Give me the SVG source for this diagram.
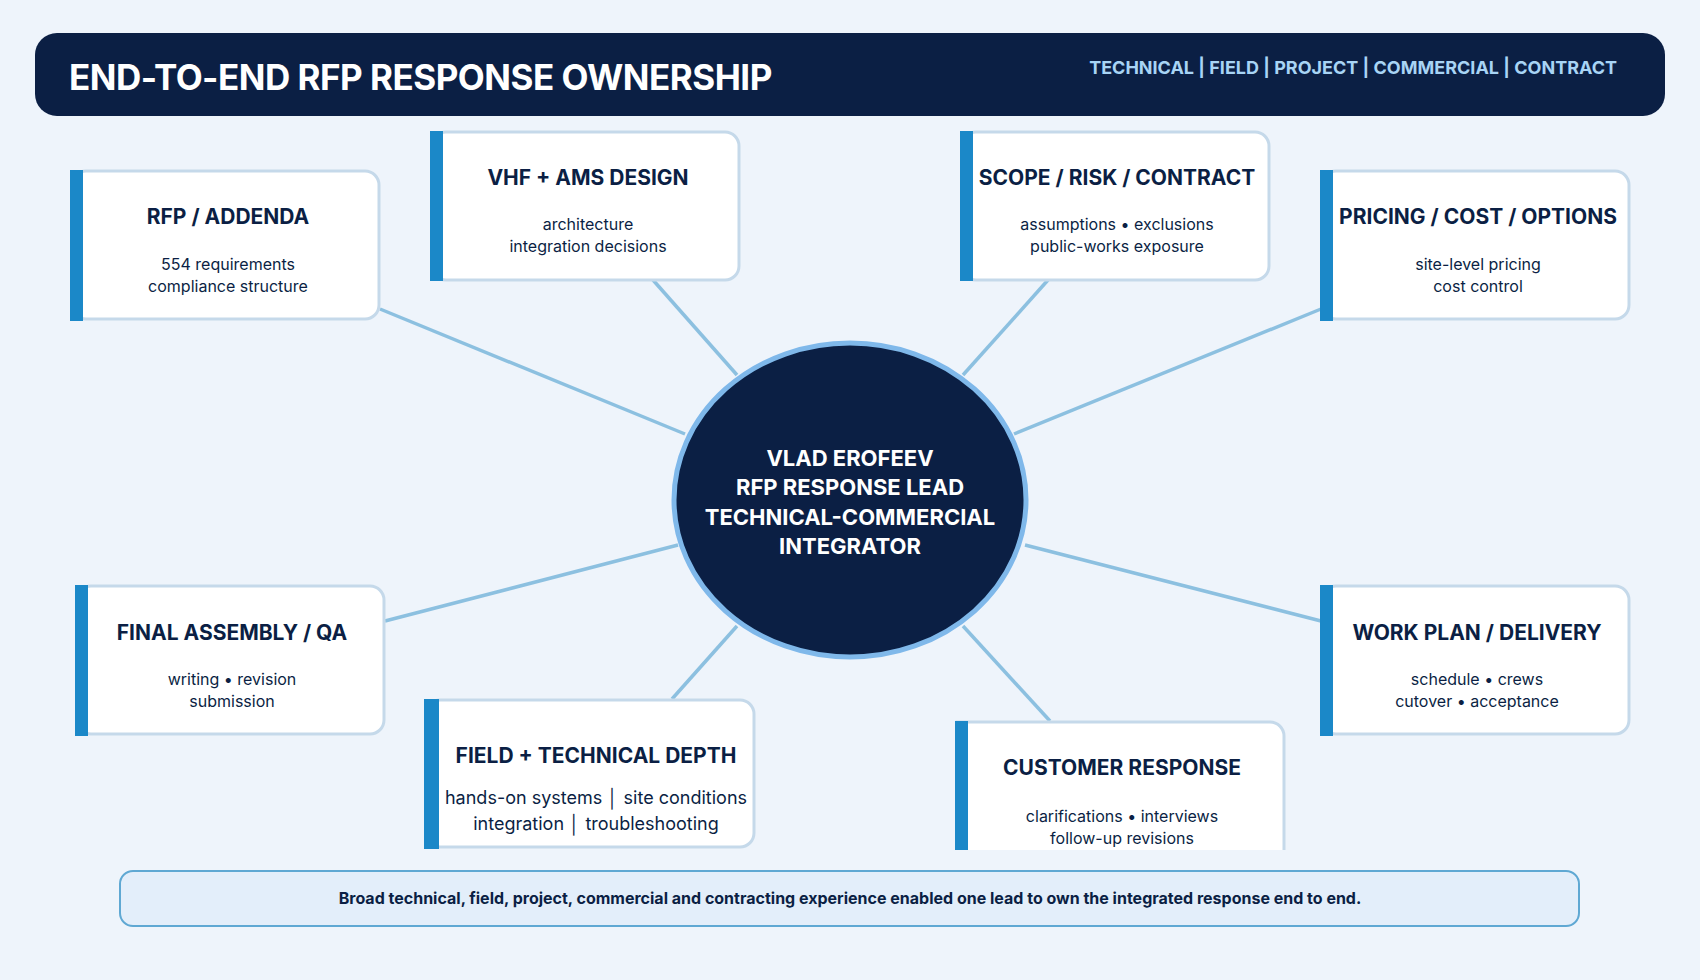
<svg xmlns="http://www.w3.org/2000/svg" width="1700" height="980" viewBox="0 0 1700 980">
<style>
.t{font-family:Inter,"Liberation Sans",sans-serif;fill:#0b1f44;text-anchor:middle}
.h{font-size:21px;font-weight:700}
.s{font-size:16px}
.box{fill:#fff;stroke:#c5d9ea;stroke-width:3}
.bar{fill:#1b88c8}
.c line{stroke:#8cc0e0;stroke-width:3.5}
</style>
<rect width="1700" height="980" fill="#eef4fb"/>
<g id="header">
<rect x="35" y="33" width="1630" height="83" rx="22" fill="#0b1f44"/>
<text x="69" y="90" font-family="Inter,'Liberation Sans',sans-serif" font-size="35" font-weight="700" fill="#fff" letter-spacing="-0.5">END-TO-END RFP RESPONSE OWNERSHIP</text>
<text x="1617" y="74" text-anchor="end" font-family="Inter,'Liberation Sans',sans-serif" font-size="18" font-weight="700" fill="#a8d4f5">TECHNICAL | FIELD | PROJECT | COMMERCIAL | CONTRACT</text>
</g>
<g class="c" id="connectors">
<line x1="380" y1="309" x2="685" y2="434"/>
<line x1="653" y1="280" x2="737" y2="375"/>
<line x1="1048" y1="280" x2="963" y2="375"/>
<line x1="1321" y1="309" x2="1014" y2="434"/>
<line x1="385" y1="621" x2="678" y2="545"/>
<line x1="1321" y1="621" x2="1025" y2="545"/>
<line x1="672" y1="699" x2="737" y2="626"/>
<line x1="1050" y1="721" x2="963" y2="626"/>
</g>
<g id="center">
<ellipse cx="850" cy="500" rx="176" ry="157" fill="#0b1f44" stroke="#7fb8ea" stroke-width="5"/>
<g font-family="Inter,'Liberation Sans',sans-serif" font-size="22" font-weight="700" fill="#fff" text-anchor="middle">
<text x="850" y="466">VLAD EROFEEV</text>
<text x="850" y="495">RFP RESPONSE LEAD</text>
<text x="850" y="525">TECHNICAL-COMMERCIAL</text>
<text x="850" y="554">INTEGRATOR</text>
</g>
</g>
<g id="n-rfp">
<rect class="box" x="72" y="171" width="307" height="148" rx="14"/>
<rect class="bar" x="70" y="170" width="13" height="151"/>
<text class="t h" x="228" y="224">RFP / ADDENDA</text>
<text class="t s" x="228" y="270">554 requirements</text>
<text class="t s" x="228" y="292">compliance structure</text>
</g>
<g id="n-vhf">
<rect class="box" x="432" y="132" width="307" height="148" rx="14"/>
<rect class="bar" x="430" y="131" width="13" height="150"/>
<text class="t h" x="588" y="185">VHF + AMS DESIGN</text>
<text class="t s" x="588" y="230">architecture</text>
<text class="t s" x="588" y="252">integration decisions</text>
</g>
<g id="n-scope">
<rect class="box" x="962" y="132" width="307" height="148" rx="14"/>
<rect class="bar" x="960" y="131" width="13" height="150"/>
<text class="t h" x="1117" y="185">SCOPE / RISK / CONTRACT</text>
<text class="t s" x="1117" y="230">assumptions • exclusions</text>
<text class="t s" x="1117" y="252">public-works exposure</text>
</g>
<g id="n-pricing">
<rect class="box" x="1322" y="171" width="307" height="148" rx="14"/>
<rect class="bar" x="1320" y="170" width="13" height="151"/>
<text class="t h" x="1478" y="224">PRICING / COST / OPTIONS</text>
<text class="t s" x="1478" y="270">site-level pricing</text>
<text class="t s" x="1478" y="292">cost control</text>
</g>
<g id="n-final">
<rect class="box" x="77" y="586" width="307" height="148" rx="14"/>
<rect class="bar" x="75" y="585" width="13" height="151"/>
<text class="t h" x="232" y="640">FINAL ASSEMBLY / QA</text>
<text class="t s" x="232" y="685">writing • revision</text>
<text class="t s" x="232" y="707">submission</text>
</g>
<g id="n-work">
<rect class="box" x="1322" y="586" width="307" height="148" rx="14"/>
<rect class="bar" x="1320" y="585" width="13" height="151"/>
<text class="t h" x="1477" y="640">WORK PLAN / DELIVERY</text>
<text class="t s" x="1477" y="685">schedule • crews</text>
<text class="t s" x="1477" y="707">cutover • acceptance</text>
</g>
<g id="n-field">
<rect class="box" x="426" y="700" width="328" height="147" rx="14"/>
<rect class="bar" x="424" y="699" width="15" height="150"/>
<text class="t h" x="596" y="763">FIELD + TECHNICAL DEPTH</text>
<text class="t" font-size="18" x="596" y="804">hands-on systems  │  site conditions</text>
<text class="t" font-size="18" x="596" y="830">integration  │  troubleshooting</text>
</g>
<g id="n-customer">
<path class="box" d="M957 850 V722 H1270 a14 14 0 0 1 14 14 V850"/>
<rect class="bar" x="955" y="721" width="13" height="129"/>
<text class="t h" x="1122" y="775">CUSTOMER RESPONSE</text>
<text class="t s" x="1122" y="822">clarifications • interviews</text>
<text class="t s" x="1122" y="844">follow-up revisions</text>
</g>
<g id="footer">
<rect x="120" y="871" width="1459" height="55" rx="13" fill="#e3eefa" stroke="#5fa8d3" stroke-width="2"/>
<text class="t" x="850" y="904" font-size="16" font-weight="700">Broad technical, field, project, commercial and contracting experience enabled one lead to own the integrated response end to end.</text>
</g>
</svg>
